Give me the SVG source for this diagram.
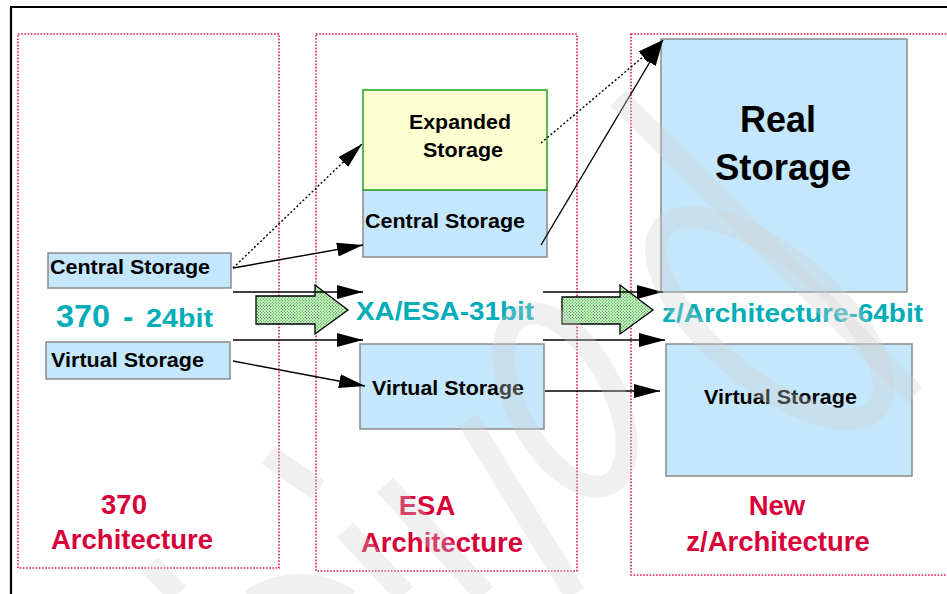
<svg xmlns="http://www.w3.org/2000/svg" width="947" height="594" viewBox="0 0 947 594">
<style>
.frame{stroke:#000;stroke-width:2.2;fill:none}
.zone{fill:none;stroke:#e8174a;stroke-width:1.6;stroke-dasharray:1.6 1.6}
.blue{fill:#c5e7fb;stroke:#8a8a8a;stroke-width:1.5}
.yellow{fill:#ffffd2;stroke:#22a022;stroke-width:1.5}
.lbl{font-family:"Liberation Sans",Arial,sans-serif;font-weight:bold;fill:#000}
.teal{font-family:"Liberation Sans",Arial,sans-serif;font-weight:bold;fill:#00adb8}
.red{font-family:"Liberation Sans",Arial,sans-serif;font-weight:bold;fill:#d9003a;font-size:27.5px;text-anchor:middle}
.con{stroke:#000;stroke-width:1.4;fill:none;marker-end:url(#ah)}
.dot{stroke-dasharray:2 2.2}
.block{fill:url(#dots);stroke:#000;stroke-width:1.3}
.wm{fill:none;stroke:#cfcfcf;stroke-opacity:0.32;stroke-width:22}
</style>
<defs>
<marker id="ah" markerUnits="userSpaceOnUse" markerWidth="27" markerHeight="14" refX="26" refY="7" orient="auto">
<path d="M0,0 L26,7 L0,14 Z" fill="#000"/>
</marker>
<pattern id="dots" patternUnits="userSpaceOnUse" width="3" height="3">
<rect width="3" height="3" fill="#e2f6de"/>
<circle cx="0.8" cy="0.8" r="0.7" fill="#33b033"/>
<circle cx="2.3" cy="2.3" r="0.7" fill="#33b033"/>
</pattern>
</defs>
<rect width="947" height="594" fill="#fff"/>
<path class="frame" d="M10,7 H947 M11,6 V594"/>

<g id="zone-370"><rect class="zone" x="18" y="34" width="261" height="534"/>
<text class="red" x="124" y="514">370</text>
<text class="red" x="132" y="549">Architecture</text></g>
<g id="zone-esa"><rect class="zone" x="316" y="34" width="261" height="537"/>
<text class="red" x="427" y="515">ESA</text>
<text class="red" x="442" y="552">Architecture</text></g>
<g id="zone-z"><rect class="zone" x="631" y="34" width="330" height="541"/>
<text class="red" x="777" y="515">New</text>
<text class="red" x="778" y="551">z/Architecture</text></g>

<g id="cs370"><rect class="blue" x="48" y="253" width="183" height="35"/>
<text class="lbl" x="50" y="274" font-size="21" textLength="160" lengthAdjust="spacingAndGlyphs">Central Storage</text></g>
<g id="vs370"><rect class="blue" x="46" y="342" width="184" height="37"/>
<text class="lbl" x="51" y="367" font-size="21" textLength="153" lengthAdjust="spacingAndGlyphs">Virtual Storage</text></g>
<g id="label370"><text class="teal" y="327"><tspan x="56" font-size="31" textLength="54" lengthAdjust="spacingAndGlyphs">370</tspan><tspan x="123" font-size="31">-</tspan><tspan x="146" font-size="26" textLength="67" lengthAdjust="spacingAndGlyphs">24bit</tspan></text></g>

<g id="csESA"><rect class="blue" x="363" y="190" width="184" height="67"/>
<text class="lbl" x="365" y="228" font-size="21" textLength="160" lengthAdjust="spacingAndGlyphs">Central Storage</text></g>
<g id="expanded"><rect class="yellow" x="363" y="90" width="184" height="100"/>
<text class="lbl" x="409" y="129" font-size="21" textLength="102" lengthAdjust="spacingAndGlyphs">Expanded</text>
<text class="lbl" x="423" y="157" font-size="21" textLength="80" lengthAdjust="spacingAndGlyphs">Storage</text></g>
<g id="vsESA"><rect class="blue" x="360" y="344" width="184" height="85"/>
<text class="lbl" x="372" y="395" font-size="21" textLength="152" lengthAdjust="spacingAndGlyphs">Virtual Storage</text></g>
<g id="labelESA"><text class="teal" x="356" y="320" font-size="26" textLength="178" lengthAdjust="spacingAndGlyphs">XA/ESA-31bit</text></g>

<g id="real"><rect class="blue" x="661" y="39" width="246" height="253"/>
<text class="lbl" x="740" y="132" font-size="36" textLength="76" lengthAdjust="spacingAndGlyphs">Real</text>
<text class="lbl" x="715" y="180" font-size="36" textLength="136" lengthAdjust="spacingAndGlyphs">Storage</text></g>
<g id="vsZ"><rect class="blue" x="666" y="344" width="246" height="132"/>
<text class="lbl" x="704" y="404" font-size="21" textLength="153" lengthAdjust="spacingAndGlyphs">Virtual Storage</text></g>
<g id="labelZ"><text class="teal" x="662" y="322" font-size="26" textLength="261" lengthAdjust="spacingAndGlyphs">z/Architecture-64bit</text></g>

<g id="migration-arrows">
<path class="block" d="M256,296 H315 V285 L348,310 L315,334 V324 H256 Z"/>
<path class="block" d="M562,297 H620 V285 L653,310 L620,334 V324 H562 Z"/>
</g>

<g id="connectors">
<path class="con dot" d="M233,268 L362,144"/>
<path class="con" d="M233,268 L363,245"/>
<path class="con" d="M233,292 L363,292"/>
<path class="con" d="M233,340 L363,340"/>
<path class="con" d="M233,361 L365,386"/>
<path class="con dot" d="M541,143 L663,40"/>
<path class="con" d="M541,245 L663,40"/>
<path class="con" d="M543,292 L663,292"/>
<path class="con" d="M543,340 L665,340"/>
<path class="con" d="M545,391 L660,391"/>
</g>

<g id="watermark">
<path class="wm" d="M618,98 L915,395"/>
<ellipse class="wm" cx="770" cy="318" rx="140" ry="60" transform="rotate(40 770 318)"/>
<ellipse class="wm" cx="565" cy="400" rx="95" ry="48" transform="rotate(62 565 400)"/>
<path class="wm" d="M468,420 L575,594"/>
<path class="wm" d="M268,455 L318,490"/>
<path class="wm" d="M385,485 L485,594"/>
<path class="wm" d="M345,530 L405,594"/>
<path class="wm" d="M150,565 L178,594"/>
<path class="wm" d="M250,600 Q300,570 350,600"/>
</g>
</svg>
